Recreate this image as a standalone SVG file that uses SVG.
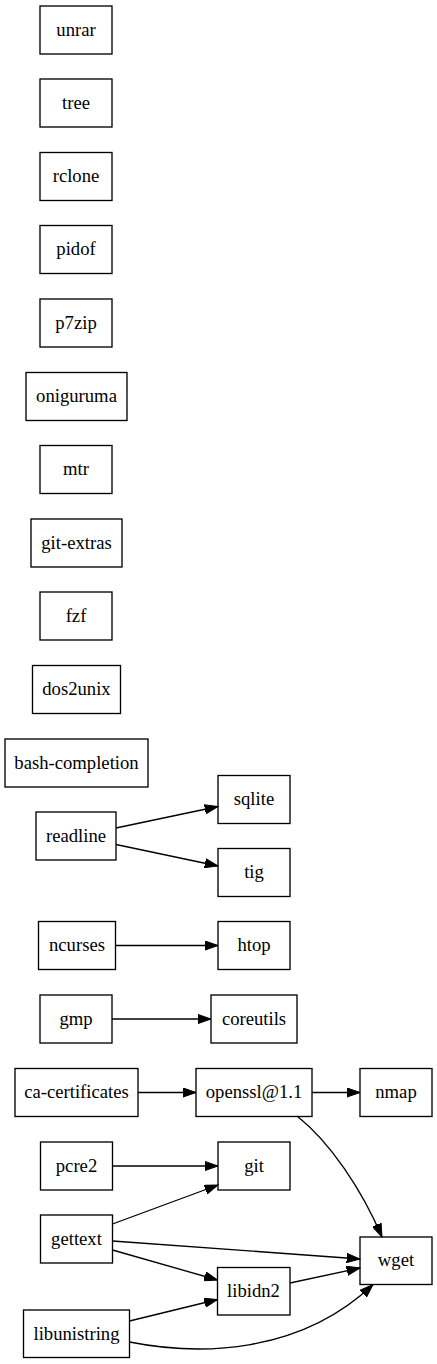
<svg xmlns="http://www.w3.org/2000/svg" width="437" height="1364" viewBox="0 0 437 1364">
<style>
.n rect{fill:none;stroke:#000;stroke-width:1.33}
.n text{font-family:'Liberation Serif','Times New Roman','DejaVu Serif',serif;font-size:18.67px;text-anchor:middle;fill:#000}
.e path{fill:none;stroke:#000;stroke-width:1.33}
</style>
<defs>
<marker id="ah" markerUnits="userSpaceOnUse" markerWidth="14" markerHeight="10" viewBox="0 0 14 10" refX="13.3" refY="5" orient="auto">
<path d="M0,0.33 L13.3,5 L0,9.67 Z" fill="#000" stroke="#000" stroke-width="1"/>
</marker>
</defs>
<rect width="437" height="1364" fill="#fff"/>
<g font-family="Liberation Serif, Times New Roman, serif">
<g id="unrar" class="n"><rect x="40" y="6" width="72" height="48"/><text x="76" y="35.6">unrar</text></g>
<g id="tree" class="n"><rect x="40" y="79" width="72" height="48"/><text x="76" y="108.6">tree</text></g>
<g id="rclone" class="n"><rect x="40" y="152.5" width="72" height="48"/><text x="76" y="182">rclone</text></g>
<g id="pidof" class="n"><rect x="40" y="225.5" width="72" height="48"/><text x="76" y="255">pidof</text></g>
<g id="p7zip" class="n"><rect x="40" y="299" width="72" height="48"/><text x="76" y="328.6">p7zip</text></g>
<g id="oniguruma" class="n"><rect x="26" y="372.5" width="101" height="48"/><text x="76.5" y="402">oniguruma</text></g>
<g id="mtr" class="n"><rect x="40" y="445.5" width="72" height="48"/><text x="76" y="475">mtr</text></g>
<g id="git-extras" class="n"><rect x="31" y="519" width="91" height="48"/><text x="76.5" y="548.6">git-extras</text></g>
<g id="fzf" class="n"><rect x="40" y="592" width="72" height="48"/><text x="76" y="621.6">fzf</text></g>
<g id="dos2unix" class="n"><rect x="32.5" y="665.5" width="88" height="48"/><text x="76.5" y="695">dos2unix</text></g>
<g id="bash-completion" class="n"><rect x="5" y="739" width="143" height="48"/><text x="76.5" y="768.6">bash-completion</text></g>
<g id="readline" class="n"><rect x="36" y="812" width="80" height="48"/><text x="76" y="841.6">readline</text></g>
<g id="sqlite" class="n"><rect x="218" y="775.5" width="72" height="48"/><text x="254" y="805">sqlite</text></g>
<g id="tig" class="n"><rect x="218" y="848.5" width="72" height="48"/><text x="254" y="878">tig</text></g>
<g id="ncurses" class="n"><rect x="38.5" y="921.5" width="77" height="48"/><text x="77" y="951">ncurses</text></g>
<g id="htop" class="n"><rect x="218" y="921.5" width="72" height="48"/><text x="254" y="951">htop</text></g>
<g id="gmp" class="n"><rect x="40" y="995" width="72" height="48"/><text x="76" y="1024.6">gmp</text></g>
<g id="coreutils" class="n"><rect x="211" y="995" width="86" height="48"/><text x="254" y="1024.6">coreutils</text></g>
<g id="ca-certificates" class="n"><rect x="15" y="1068.5" width="123" height="48"/><text x="76.5" y="1098">ca-certificates</text></g>
<g id="openssl" class="n"><rect x="196" y="1068.5" width="116" height="48"/><text x="254" y="1098">openssl@1.1</text></g>
<g id="nmap" class="n"><rect x="360" y="1068.5" width="72" height="48"/><text x="396" y="1098">nmap</text></g>
<g id="pcre2" class="n"><rect x="40.5" y="1142" width="72" height="48"/><text x="76.5" y="1171.6">pcre2</text></g>
<g id="git" class="n"><rect x="218" y="1142" width="72" height="48"/><text x="254" y="1171.6">git</text></g>
<g id="gettext" class="n"><rect x="40.5" y="1215" width="72" height="48"/><text x="76.5" y="1244.6">gettext</text></g>
<g id="wget" class="n"><rect x="360" y="1237" width="72" height="47.5"/><text x="396" y="1266.4">wget</text></g>
<g id="libidn2" class="n"><rect x="217.5" y="1267.5" width="72.5" height="47.5"/><text x="253.5" y="1297">libidn2</text></g>
<g id="libunistring" class="n"><rect x="23.5" y="1310" width="106" height="47.5"/><text x="76.5" y="1339.6">libunistring</text></g>
</g>
<g id="edges" class="e">
<path d="M116,828 L218,806.5" marker-end="url(#ah)"/>
<path d="M116,844.5 L218,866" marker-end="url(#ah)"/>
<path d="M115.5,945.5 L218,945.5" marker-end="url(#ah)"/>
<path d="M112,1019 L211,1019" marker-end="url(#ah)"/>
<path d="M138,1092.5 L196,1092.5" marker-end="url(#ah)"/>
<path d="M312,1092.5 L360,1092.5" marker-end="url(#ah)"/>
<path d="M297,1116 C330,1142 362,1190 382,1237" marker-end="url(#ah)"/>
<path d="M112.5,1166 L218,1166" marker-end="url(#ah)"/>
<path d="M112.5,1224 L218,1185" marker-end="url(#ah)"/>
<path d="M112.5,1241 L360,1259" marker-end="url(#ah)"/>
<path d="M112.5,1250 L217.5,1280" marker-end="url(#ah)"/>
<path d="M290,1283 L360,1268" marker-end="url(#ah)"/>
<path d="M129.5,1321 L217.5,1299.5" marker-end="url(#ah)"/>
<path d="M129.5,1342 C200,1356 300,1354 373,1284.5" marker-end="url(#ah)"/>
</g>
</svg>
